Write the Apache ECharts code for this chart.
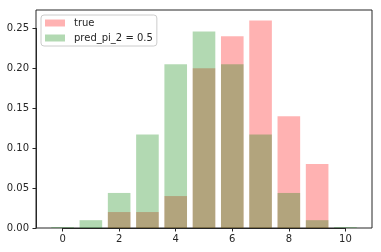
<!DOCTYPE html>
<html>
<head>
<meta charset="utf-8">
<script src="https://cdn.jsdelivr.net/npm/echarts@6/dist/echarts.min.js"></script>
<style>html,body{margin:0;padding:0;background:#fff}#c{width:381px;height:252px}</style>
</head>
<body>
<div id="c"></div>
<script>
var xs = [0, 1, 2, 3, 4, 5, 6, 7, 8, 9, 10];
var trueVals = [0, 0, 0.02, 0.02, 0.04, 0.20, 0.24, 0.26, 0.14, 0.08, 0];
var predVals = [0.001, 0.0098, 0.0439, 0.117, 0.205, 0.246, 0.205, 0.117, 0.0439, 0.0098, 0.001];
var xTickMin = 0, xTickMax = 10, xTickStep = 2;
var yTickMin = 0, yTickMax = 0.25, yTickStep = 0.05;
var seriesNames = ['true', 'pred_pi_2 = 0.5'];

function pairs(v){ return xs.map(function(x,i){ return [x, v[i]]; }); }

var W = 381, H = 252;
var G = {left: 36, right: 9, top: 10, bottom: 24};
var xMin = -0.94, xMax = 10.94, yMin = 0, yMax = 0.273;
var gw = W - G.left - G.right, gh = H - G.top - G.bottom;
var pxX = gw / (xMax - xMin), pxY = gh / (yMax - yMin);
var G2 = {
  left: G.left + (xTickMin - xMin) * pxX,
  right: G.right + (xMax - xTickMax) * pxX,
  top: G.top + (yMax - yTickMax) * pxY,
  bottom: G.bottom
};

var chart = echarts.init(document.getElementById('c'), null, {renderer:'canvas'});
var font = 'DejaVu Sans';
var ink = '#262626';
chart.setOption({
  animation: false,
  grid: [
    {left: G.left, right: G.right, top: G.top, bottom: G.bottom, show: true, borderColor: ink, borderWidth: 1, backgroundColor: 'transparent'},
    {left: G2.left, right: G2.right, top: G2.top, bottom: G2.bottom, show: false}
  ],
  legend: {
    orient: 'vertical', left: 41, top: 15,
    padding: [3, 4, 3, 4],
    itemWidth: 20, itemHeight: 7, itemGap: 5,
    backgroundColor: 'rgba(255,255,255,0.8)', borderColor: '#cccccc', borderWidth: 1, borderRadius: 3,
    textStyle: {fontFamily: font, fontSize: 10, color: ink, padding: [0,0,0,4]},
    data: [{name: seriesNames[0], icon: 'rect'}, {name: seriesNames[1], icon: 'rect'}]
  },
  xAxis: [
    {gridIndex: 0, type: 'value', min: xMin, max: xMax, show: false},
    {gridIndex: 1, type: 'value', min: xTickMin, max: xTickMax, interval: xTickStep,
     axisLine: {show: true, onZero: false, lineStyle: {color: ink, width: 1}},
     splitLine: {show: false},
     axisTick: {show: true, length: 3.5, lineStyle: {color: ink, width: 1}},
     axisLabel: {fontFamily: font, fontSize: 10, color: ink, margin: 6}}
  ],
  yAxis: [
    {gridIndex: 0, type: 'value', min: yMin, max: yMax, show: false},
    {gridIndex: 1, type: 'value', min: yTickMin, max: yTickMax, interval: yTickStep,
     offset: G2.left - G.left,
     axisLine: {show: true, onZero: false, lineStyle: {color: ink, width: 1}},
     splitLine: {show: false},
     axisTick: {show: true, length: 3.5, lineStyle: {color: ink, width: 1}},
     axisLabel: {fontFamily: font, fontSize: 10, color: ink, margin: 7,
       formatter: function(v){ return v.toFixed(2); }}}
  ],
  series: [
    {name: seriesNames[0], type: 'bar', xAxisIndex: 0, yAxisIndex: 0, data: pairs(trueVals), barWidth: 0.8 * pxX, barGap: '-100%',
     itemStyle: {color: 'rgba(255,0,0,0.3)'}, clip: false},
    {name: seriesNames[1], type: 'bar', xAxisIndex: 0, yAxisIndex: 0, data: pairs(predVals), barWidth: 0.8 * pxX, barGap: '-100%',
     itemStyle: {color: 'rgba(0,128,0,0.3)'}, clip: false}
  ]
});
</script>
</body>
</html>
